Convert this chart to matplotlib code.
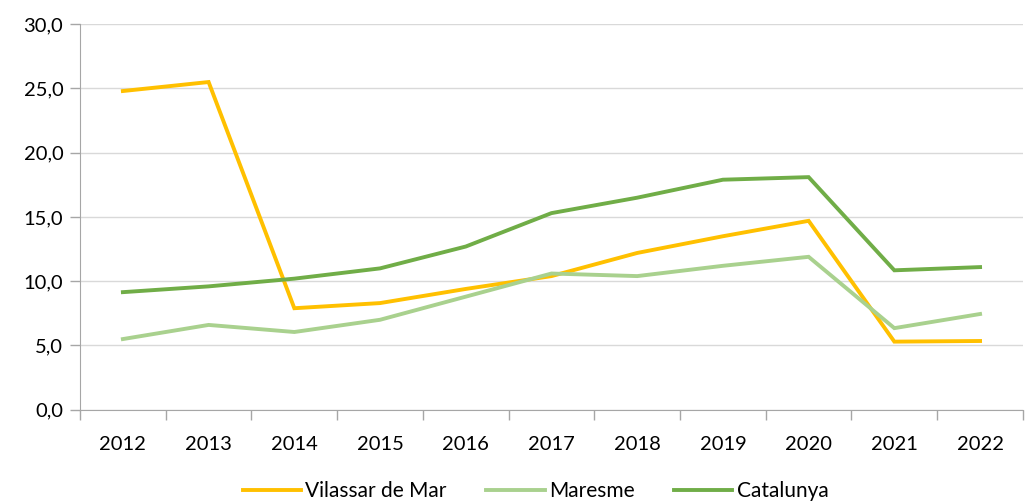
import matplotlib
matplotlib.use("Agg")
import matplotlib.pyplot as plt
from matplotlib.ticker import FixedLocator, FuncFormatter

years = ["2012", "2013", "2014", "2015", "2016", "2017", "2018", "2019", "2020", "2021", "2022"]
vilassar = [24.8, 25.5, 7.9, 8.3, 9.4, 10.4, 12.2, 13.5, 14.7, 5.3, 5.35]
maresme = [5.5, 6.6, 6.05, 7.0, 8.8, 10.6, 10.4, 11.2, 11.9, 6.35, 7.45]
catalunya = [9.15, 9.6, 10.2, 11.0, 12.7, 15.3, 16.5, 17.9, 18.1, 10.85, 11.1]

plt.rcParams["font.family"] = ["Lato", "DejaVu Sans"]

fig = plt.figure(figsize=(10.26, 5.04), dpi=100)
ax = fig.add_axes([0.078, 0.187, 0.919, 0.765])

x = list(range(len(years)))
ax.plot(x, vilassar, color="#FFC000", lw=2.8, label="Vilassar de Mar", solid_joinstyle="miter")
ax.plot(x, maresme, color="#A9D18E", lw=2.8, label="Maresme", solid_joinstyle="miter")
ax.plot(x, catalunya, color="#70AD47", lw=2.8, label="Catalunya", solid_joinstyle="miter")

ax.set_xlim(-0.5, len(years) - 0.5)
ax.set_ylim(0, 30)
ax.set_yticks([0, 5, 10, 15, 20, 25, 30])
ax.yaxis.set_major_formatter(FuncFormatter(lambda v, p: f"{v:.1f}".replace(".", ",")))
ax.grid(axis="y", color="#D9D9D9", lw=1)
ax.set_axisbelow(True)

ax.set_xticks(x)
ax.set_xticklabels(years)
ax.xaxis.set_minor_locator(FixedLocator([i - 0.5 for i in range(len(years) + 1)]))
ax.tick_params(axis="x", which="major", length=0, pad=19, labelsize=14.5)
ax.tick_params(axis="x", which="minor", length=7, color="#A6A6A6", width=1)
ax.tick_params(axis="y", length=7, color="#A6A6A6", width=1, labelsize=14.5, pad=5)

for s in ["top", "right"]:
    ax.spines[s].set_visible(False)
ax.spines["left"].set_color("#A6A6A6")
ax.spines["bottom"].set_color("#A6A6A6")

handles, labels = ax.get_legend_handles_labels()
fig.legend(handles, labels, loc="center", bbox_to_anchor=(0.522, 0.026), ncol=3, frameon=False,
           fontsize=15, handlelength=2.8, handletextpad=0.2, columnspacing=1.9,
           borderpad=0.1)

fig.savefig("out.png", dpi=100)
